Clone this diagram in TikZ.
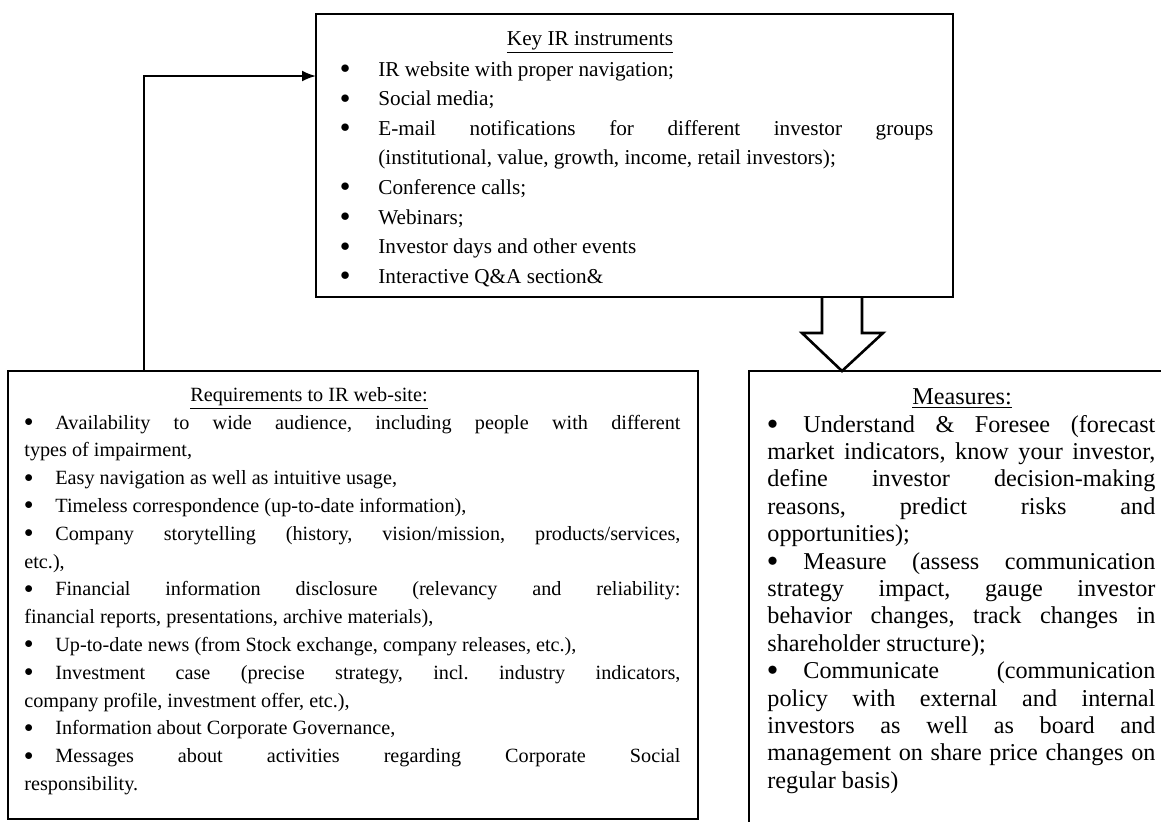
\documentclass[tikz,border=0pt]{standalone}
\usepackage{fontspec}
\usepackage{graphicx}
\setmainfont{Liberation Serif}
\usetikzlibrary{arrows.meta, positioning, calc}
\tolerance=10000
\hyphenpenalty=10000
\exhyphenpenalty=10000
% bullet lines: flush and hanging
\newcommand{\bulletmark}{\raisebox{0.12em}[0pt][0pt]{\scalebox{0.88}{$\bullet$}}}
\newcommand{\flatbul}[1]{\noindent\makebox[#1][l]{\bulletmark}\ignorespaces}
\newcommand{\hangbul}[1]{\hangindent=#1\hangafter=1\noindent\makebox[#1][l]{\bulletmark}\ignorespaces}

\begin{document}
\begin{tikzpicture}[x=0.5pt, y=-0.5pt,
    framebox/.style={draw, line width=1.3pt, inner sep=0pt, outer sep=0pt},
    listtext/.style={anchor=base west, inner sep=0pt, align=justify},
    titletext/.style={anchor=base, inner sep=0pt},
    hollowarrow/.style={draw, line width=1.3pt, line join=miter}]
    \useasboundingbox (0,0) rectangle (1161,821);
    \clip (0,0) rectangle (1161,821);

    % Boxes
    \node[framebox, minimum width=318.5pt, minimum height=141.5pt] (keybox) at (634.5,155.5) {};
    \node[framebox, minimum width=345pt, minimum height=224pt] (reqbox) at (353,595) {};
    \node[framebox, minimum width=208.5pt, minimum height=229.5pt] (measbox) at (957.5,600.5) {};

    % Key IR instruments
    \node[titletext, font=\fontsize{10.6}{14.8}\selectfont] (keytitle) at (590,45.5) {\underline{Key IR instruments}};
    \node[listtext, text width=296.5pt, font=\fontsize{10.6}{14.8}\selectfont\frenchspacing] (keylist) at (340,76) {%
        \hangbul{19pt}IR website with proper navigation;
        \par\hangbul{19pt}Social media;
        \par\hangbul{19pt}E-mail notifications for different investor groups\linebreak
            (institutional, value, growth, income, retail investors);
        \par\hangbul{19pt}Conference calls;
        \par\hangbul{19pt}Webinars;
        \par\hangbul{19pt}Investor days and other events
        \par\hangbul{19pt}Interactive Q\&A section\&};

    % Requirements
    \node[titletext, font=\fontsize{10.1}{13.9}\selectfont] (reqtitle) at (309,401) {\underline{Requirements to IR web-site:}};
    \node[listtext, text width=328pt, font=\fontsize{10.1}{13.9}\selectfont\frenchspacing] (reqlist) at (24,429) {%
        \flatbul{15.5pt}Availability to wide audience, including people with different\linebreak
            types of impairment,
        \par\flatbul{15.5pt}Easy navigation as well as intuitive usage,
        \par\flatbul{15.5pt}Timeless correspondence (up-to-date information),
        \par\flatbul{15.5pt}Company storytelling (history, vision/mission, products/services,\linebreak
            etc.),
        \par\flatbul{15.5pt}Financial information disclosure (relevancy and reliability:\linebreak
            financial reports, presentations, archive materials),
        \par\flatbul{15.5pt}Up-to-date news (from Stock exchange, company releases, etc.),
        \par\flatbul{15.5pt}Investment case (precise strategy, incl. industry indicators,\linebreak
            company profile, investment offer, etc.),
        \par\flatbul{15.5pt}Information about Corporate Governance,
        \par\flatbul{15.5pt}Messages about activities regarding Corporate Social\linebreak
            responsibility.};

    % Measures
    \node[titletext, font=\fontsize{12.1}{13.7}\selectfont] (meastitle) at (962,404) {\underline{Measures:}};
    \node[listtext, text width=194pt, font=\fontsize{12.1}{13.7}\selectfont\frenchspacing] (measlist) at (767,432) {%
        \flatbul{18pt}Understand \& Foresee (forecast\linebreak
            market indicators, know your investor,\linebreak
            define investor decision-making\linebreak
            reasons, predict risks and\linebreak
            opportunities);
        \par\flatbul{18pt}Measure (assess communication\linebreak
            strategy impact, gauge investor\linebreak
            behavior changes, track changes in\linebreak
            shareholder structure);
        \par\flatbul{18pt}Communicate (communication\linebreak
            policy with external and internal\linebreak
            investors as well as board and\linebreak
            management on share price changes on\linebreak
            regular basis)};

    % Connectors
    \draw[line width=1pt, -{Latex[length=7pt,width=5.5pt]}] ([xshift=68pt]reqbox.north west) |- ([yshift=-31pt]keybox.north west);
    \coordinate (arrtip) at ([xshift=46.5pt]measbox.north west);
    \draw[hollowarrow] ($(arrtip |- keybox.south)+(-20,0)$) -- ++(0,36) -- ++(-20,0) -- (arrtip)
        -- ++(41,-38) -- ++(-21,0) -- ($(arrtip |- keybox.south)+(20,0)$);
\end{tikzpicture}
\end{document}
